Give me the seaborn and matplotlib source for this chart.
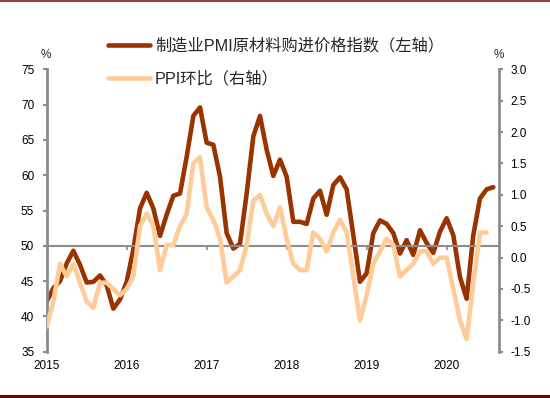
import numpy as np
import matplotlib
matplotlib.use("Agg")
import matplotlib.pyplot as plt
import seaborn as sns
from matplotlib.lines import Line2D

# monthly data, Jan 2015 onwards
years = ["2015", "2016", "2017", "2018", "2019", "2020"]
pmi_price = [
    42.1, 44.0, 45.0, 47.5, 49.3, 47.3, 44.8, 44.9, 45.8, 44.4, 41.1, 42.4,
    44.9, 49.5, 55.3, 57.5, 55.3, 51.4, 54.4, 57.1, 57.4, 62.6, 68.4, 69.6,
    64.6, 64.3, 59.8, 51.8, 49.6, 50.3, 57.4, 65.5, 68.4, 63.6, 59.9, 62.2,
    59.8, 53.4, 53.4, 53.1, 56.7, 57.8, 54.4, 58.6, 59.7, 58.0, 51.5, 44.9,
    46.1, 51.8, 53.6, 53.1, 51.8, 48.9, 50.8, 48.7, 52.2, 50.4, 49.0, 52.0,
    53.9, 51.5, 45.6, 42.5, 51.5, 56.7, 58.0, 58.3,
]
ppi_mom = [
    -1.1, -0.7, -0.1, -0.3, -0.1, -0.4, -0.7, -0.8, -0.4, -0.4, -0.5, -0.6,
    -0.5, -0.3, 0.5, 0.7, 0.5, -0.2, 0.2, 0.2, 0.5, 0.7, 1.5, 1.6,
    0.8, 0.6, 0.3, -0.4, -0.3, -0.2, 0.2, 0.9, 1.0, 0.7, 0.5, 0.8,
    0.3, -0.1, -0.2, -0.2, 0.4, 0.3, 0.1, 0.4, 0.6, 0.4, -0.3, -1.0,
    -0.6, -0.1, 0.1, 0.3, 0.2, -0.3, -0.2, -0.1, 0.1, 0.1, -0.1, 0.0,
    0.0, -0.5, -1.0, -1.3, -0.4, 0.4, 0.4,
]
label_pmi = "制造业PMI原材料购进价格指数（左轴）"
label_ppi = "PPI环比（右轴）"

sns.set_style("ticks")
plt.rcParams["font.family"] = ["Liberation Sans", "Noto Sans CJK SC", "DejaVu Sans"]
plt.rcParams["axes.unicode_minus"] = False

brown = "#993300"
peach = "#FFCC99"
grey = "#8C8C8C"

fig = plt.figure(figsize=(5.5, 3.98), dpi=100)
ax = fig.add_axes([0.0849, 0.1163, 0.8229, 0.7096])
ax2 = ax.twinx()

sns.lineplot(x=np.arange(len(pmi_price)), y=pmi_price, ax=ax, color=brown,
             linewidth=3.3, label=label_pmi, legend=False)
sns.lineplot(x=np.arange(len(ppi_mom)), y=ppi_mom, ax=ax2, color=peach,
             linewidth=3.3, label=label_ppi, legend=False)

# left axis
ax.set_xlim(0, 67.9)
ax.set_ylim(35, 75)
ax.set_yticks(np.arange(35, 76, 5))
ax.set_xticks(np.arange(0, 61, 12))
ax.set_xticklabels(years)
ax.set_xlabel("")
ax.set_ylabel("")

# right axis
ax2.set_ylim(-1.5, 3.0)
ax2.set_yticks(np.arange(-1.5, 3.01, 0.5))
ax2.set_yticklabels([f"{v:.1f}" for v in np.arange(-1.5, 3.01, 0.5)])
ax2.set_ylabel("")

for a in (ax, ax2):
    for s in a.spines.values():
        s.set_color(grey)
        s.set_linewidth(2)
    a.spines["top"].set_visible(False)

ax.spines["right"].set_visible(False)
ax2.spines["left"].set_visible(False)
ax2.spines["bottom"].set_visible(False)
ax.spines["bottom"].set_position(("data", 50))
ax.spines["bottom"].set_linewidth(1.5)

ax.tick_params(axis="y", direction="out", length=3, width=1.5, color=grey,
               pad=6, labelsize=8.5, labelcolor="black")
ax2.tick_params(axis="y", direction="out", length=3, width=1.5, color=grey,
                pad=5, labelsize=8.5, labelcolor="black")
ax.tick_params(axis="x", direction="out", length=3, width=1.2, color=grey,
               pad=79, labelsize=8.5, labelcolor="black")

ax.text(-0.002, 1.05, "%", transform=ax.transAxes, ha="center", va="center", fontsize=8.5)
ax.text(0.998, 1.05, "%", transform=ax.transAxes, ha="center", va="center", fontsize=8.5)

handles = ax.get_lines()[:1] + ax2.get_lines()[:1]
fig.legend(handles, [label_pmi, label_ppi], loc="upper left",
           bbox_to_anchor=(0.196, 0.905), frameon=False, fontsize=11.7,
           handlelength=2.6, handletextpad=0.3, labelspacing=1.05,
           borderpad=0, borderaxespad=0)

# thin rules at the top and bottom of the figure
fig.add_artist(Line2D([0, 1], [0.9975, 0.9975], color="#7A1F1F", linewidth=1.2,
                      transform=fig.transFigure))
fig.add_artist(Line2D([0, 1], [0.0038, 0.0038], color="#700000", linewidth=2.2,
                      transform=fig.transFigure))

fig.savefig("out.png", dpi=100)
